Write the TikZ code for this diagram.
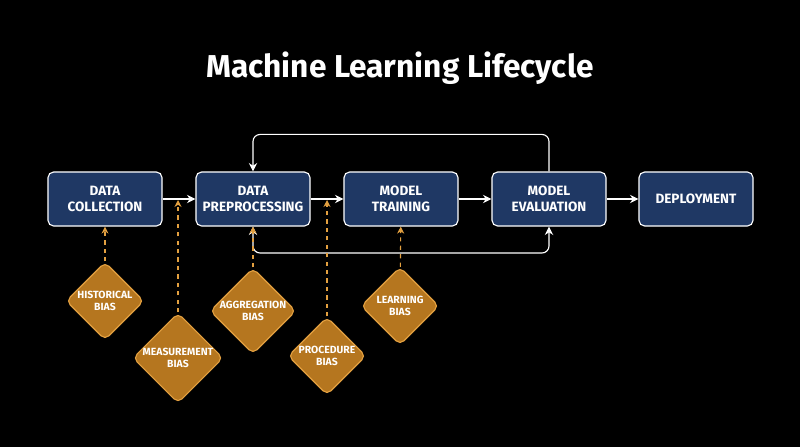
\documentclass[tikz,border=0pt]{standalone}
\usepackage{fontspec}
\setmainfont{Fira Sans}
\usetikzlibrary{shapes.geometric,arrows.meta}
\definecolor{navy}{HTML}{1F3864}
\definecolor{ochre}{HTML}{B5761F}
\definecolor{gold}{HTML}{E3A040}
\tikzset{
  stage/.style={draw=white,thick,fill=navy,rounded corners=4pt,text=white,
    minimum width=2.85cm,minimum height=1.35cm,align=center,
    font=\fontsize{9.6}{11}\selectfont\bfseries},
  bias/.style={diamond,draw=gold,thick,fill=ochre,rounded corners=4pt,text=white,
    minimum size=1.95cm,inner sep=0pt,align=center,
    font=\fontsize{7.4}{8.6}\selectfont\bfseries},
  flow/.style={->,>={Stealth[length=6pt,width=6pt]},white,thick},
  hint/.style={->,>={Stealth[length=5pt,width=5pt]},gold,thick,dashed}
}
\begin{document}
\begin{tikzpicture}[x=0.025cm,y=-0.025cm]
  % background
  \fill[black] (0,0) rectangle (800,447);

  % title
  \node[text=white,font=\fontsize{22.5}{26}\selectfont\bfseries] (title) at (400,68) {Machine Learning Lifecycle};

  % stages
  \node[stage] (collect) at (105,199) {DATA\\COLLECTION};
  \node[stage] (prep)    at (253,199) {DATA\\PREPROCESSING};
  \node[stage] (train)   at (401,199) {MODEL\\TRAINING};
  \node[stage] (eval)    at (549,199) {MODEL\\EVALUATION};
  \node[stage] (deploy)  at (696,199) {DEPLOYMENT};

  \draw[flow] (collect) -- (prep);
  \draw[flow] (prep) -- (train);
  \draw[flow] (train) -- (eval);
  \draw[flow] (eval) -- (deploy);

  % feedback loops
  \draw[flow,rounded corners=5pt] (eval.north) -- ++(0,-37) -| (prep.north);
  \draw[flow,<->,rounded corners=5pt] (prep.south) |- (401,253) -| (eval.south);

  % biases
  \node[bias] (hist)  at (105,301) {HISTORICAL\\BIAS};
  \node[bias] (meas)  at (178,358) {MEASUREMENT\\BIAS};
  \node[bias] (aggr)  at (253,311) {AGGREGATION\\BIAS};
  \node[bias] (proc)  at (327,356) {PROCEDURE\\BIAS};
  \node[bias] (learn) at (400,306) {LEARNING\\BIAS};

  \coordinate (measend) at (178,200);
  \coordinate (procend) at (327,200);
  \draw[hint] (hist) -- (collect);
  \draw[hint] (meas) -- (measend);
  \draw[hint] (aggr) -- (prep);
  \draw[hint] (proc) -- (procend);
  \draw[hint] (learn) -- (train);
\end{tikzpicture}
\end{document}
